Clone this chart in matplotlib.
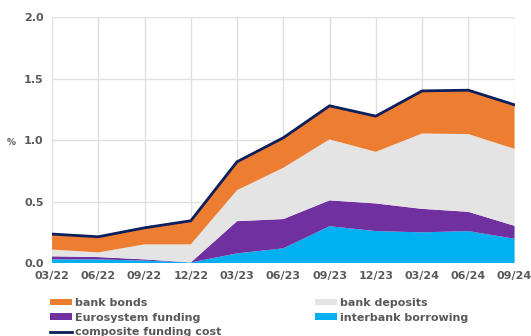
import matplotlib
matplotlib.use("Agg")
import matplotlib.pyplot as plt
from matplotlib.patches import Patch
from matplotlib.lines import Line2D
import numpy as np

quarters = ["03/22", "06/22", "09/22", "12/22", "03/23", "06/23",
            "09/23", "12/23", "03/24", "06/24", "09/24"]

# Contributions to the composite funding cost (percentage points)
interbank_borrowing = [0.030, 0.030, 0.020, 0.005, 0.079, 0.120, 0.300, 0.260, 0.250, 0.260, 0.198]
eurosystem_funding = [0.025, 0.019, 0.010, 0.000, 0.262, 0.238, 0.210, 0.225, 0.191, 0.157, 0.105]
bank_deposits = [0.055, 0.038, 0.122, 0.147, 0.252, 0.417, 0.496, 0.420, 0.613, 0.632, 0.626]
bank_bonds = [0.126, 0.127, 0.135, 0.192, 0.231, 0.244, 0.273, 0.290, 0.346, 0.357, 0.358]

composite_cost = list(np.sum([interbank_borrowing, eurosystem_funding,
                              bank_deposits, bank_bonds], axis=0))

yticks = [0.0, 0.5, 1.0, 1.5, 2.0]

c_bonds = "#ED7D31"
c_dep = "#E4E4E4"
c_euro = "#7030A0"
c_inter = "#00B0F0"
c_line = "#0B1F5C"
txt = "#595959"

fig = plt.figure(figsize=(5.31, 3.36), dpi=100)
ax = fig.add_axes([0.098, 0.217, 0.871, 0.732])

x = np.arange(len(quarters))
ax.stackplot(x, interbank_borrowing, eurosystem_funding, bank_deposits, bank_bonds,
             colors=[c_inter, c_euro, c_dep, c_bonds], linewidth=0, zorder=2)
ax.plot(x, composite_cost, color=c_line, linewidth=2, zorder=3)

ax.set_xlim(0, len(quarters) - 1)
ax.set_ylim(0, 2.0)
ax.set_xticks(x)
ax.set_xticklabels(quarters)
ax.set_yticks(yticks)
ax.set_yticklabels([f"{v:.1f}" for v in yticks])
ax.grid(True, color="#E0E0E0", linewidth=1, zorder=0)
ax.set_axisbelow(True)
for s in ax.spines.values():
    s.set_visible(False)
ax.tick_params(length=0, labelsize=8, labelcolor=txt, pad=6)
for lab in ax.get_xticklabels() + ax.get_yticklabels():
    lab.set_fontweight("bold")
ax.set_ylabel("%", rotation=0, fontsize=6.5, color=txt, fontweight="bold")
ax.yaxis.set_label_coords(-0.088, 0.47)

handles = [
    Patch(facecolor=c_bonds, edgecolor="none"),
    Patch(facecolor=c_euro, edgecolor="none"),
    Line2D([], [], color=c_line, linewidth=2),
    Patch(facecolor=c_dep, edgecolor="none"),
    Patch(facecolor=c_inter, edgecolor="none"),
]
labels = ["bank bonds", "Eurosystem funding", "composite funding cost",
          "bank deposits", "interbank borrowing"]
leg = fig.legend(handles, labels, ncol=2, loc="upper left",
                 bbox_to_anchor=(0.094, 0.113), frameon=False,
                 prop={"size": 8, "weight": "bold"}, labelcolor=txt,
                 handlelength=2.0, handleheight=0.55, handletextpad=0.27,
                 labelspacing=0.42, columnspacing=8.4, borderaxespad=0,
                 borderpad=0)

fig.savefig("out.png", dpi=100)
